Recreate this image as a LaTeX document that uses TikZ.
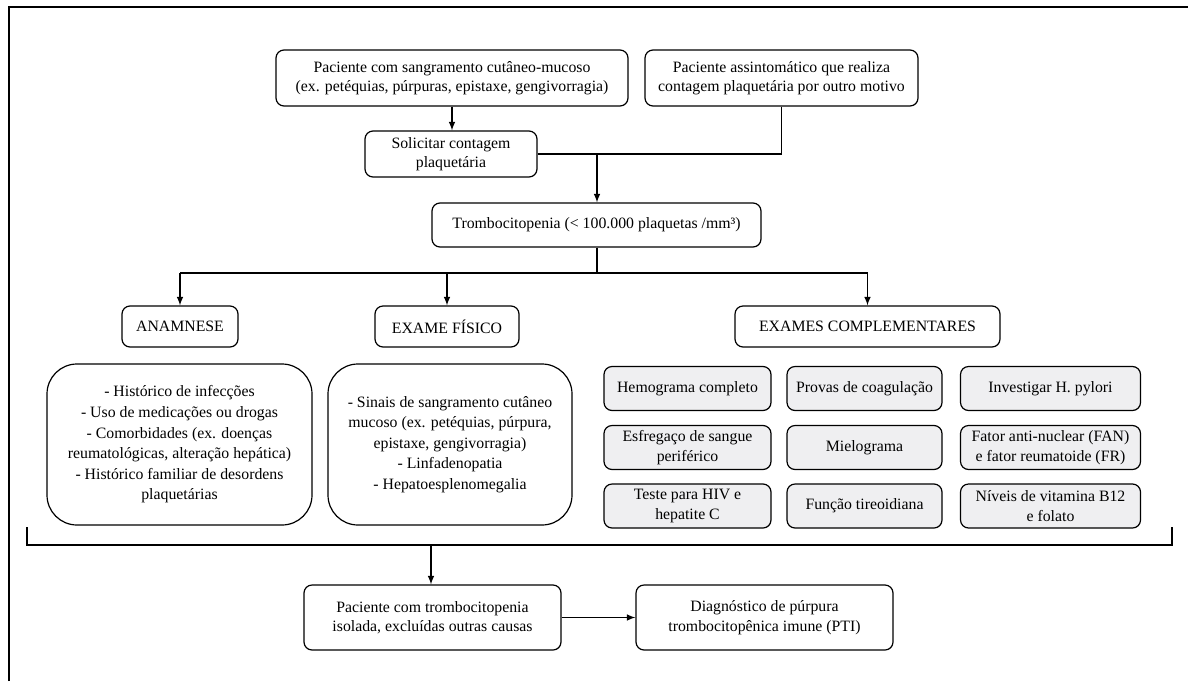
\documentclass[tikz,border=0pt]{standalone}
\usepackage{fontspec}
\setmainfont{Liberation Serif}
\usepackage{tikz}
\usetikzlibrary{arrows}
\usepackage{xcolor}
\definecolor{cinzaclaro}{HTML}{EFEFF1}

\begin{document}
\begin{tikzpicture}[x=1pt,y=-1pt,->,>=latex,line width=1.9pt]

\tikzstyle{every node}=[font=\fontsize{15.8}{19.5}\selectfont]
\tikzstyle{caixa}=[draw,line width=1.2pt,rounded corners=8pt,align=center,inner sep=0pt]
\tikzstyle{caixagrande}=[caixa,rounded corners=30pt,font=\fontsize{15.8}{20.6}\selectfont]
\tikzstyle{exame}=[caixa,fill=cinzaclaro,minimum height=44pt]

\useasboundingbox (0,0) rectangle (1188,681);
\draw[-,line width=1.4pt] (9,681) -- (9,7) -- (1188,7);

% entrada
\node[caixa,minimum width=352pt,minimum height=56pt] (sangra) at (452,78)
  {Paciente com sangramento cutâneo-mucoso\\(ex. petéquias, púrpuras, epistaxe, gengivorragia)};
\node[caixa,minimum width=273pt,minimum height=56pt] (assint) at (781.5,78)
  {Paciente assintomático que realiza\\contagem plaquetária por outro motivo};
\node[caixa,minimum width=172pt,minimum height=46pt] (solic) at (451,154)
  {Solicitar contagem\\plaquetária};
\node[caixa,minimum width=329pt,minimum height=44pt] (trombo) at (596.5,225)
  {Trombocitopenia (< 100.000 plaquetas /mm³)};

% avaliacao
\node[caixa,minimum width=116pt,minimum height=41pt] (anam) at (180,326.5) {ANAMNESE};
\node[caixa,minimum width=144pt,minimum height=41pt] (exfis) at (447,326.5) {EXAME FÍSICO};
\node[caixa,minimum width=265pt,minimum height=41pt] (excomp) at (867.5,326.5) {EXAMES COMPLEMENTARES};

\node[caixagrande,minimum width=265pt,minimum height=161pt] (anamtxt) at (179.5,444.5)
  {- Histórico de infecções\\- Uso de medicações ou drogas\\- Comorbidades (ex. doenças\\reumatológicas, alteração hepática)\\- Histórico familiar de desordens\\plaquetárias};
\node[caixagrande,minimum width=244pt,minimum height=161pt] (exfistxt) at (450,444.5)
  {- Sinais de sangramento cutâneo\\mucoso (ex. petéquias, púrpura,\\epistaxe, gengivorragia)\\- Linfadenopatia\\- Hepatoesplenomegalia};

\node[exame,minimum width=167pt] (hemo) at (687.5,388.5) {Hemograma completo};
\node[exame,minimum width=155pt] (coag) at (864.5,388.5) {Provas de coagulação};
\node[exame,minimum width=180pt] (pylori) at (1050.5,388.5) {Investigar H. pylori};
\node[exame,minimum width=167pt] (esfreg) at (687.5,447.5) {Esfregaço de sangue\\periférico};
\node[exame,minimum width=155pt] (mielo) at (864.5,447.5) {Mielograma};
\node[exame,minimum width=180pt] (fan) at (1050.5,447.5) {Fator anti-nuclear (FAN)\\e fator reumatoide (FR)};
\node[exame,minimum width=167pt] (hiv) at (687.5,506) {Teste para HIV e\\hepatite C};
\node[exame,minimum width=155pt] (tireo) at (864.5,506) {Função tireoidiana};
\node[exame,minimum width=180pt] (vitb) at (1050.5,506) {Níveis de vitamina B12\\e folato};

% saida
\node[caixa,minimum width=257pt,minimum height=65pt] (isolada) at (432.5,617.5)
  {Paciente com trombocitopenia\\isolada, excluídas outras causas};
\node[caixa,minimum width=257pt,minimum height=65pt] (pti) at (764.5,617.5)
  {Diagnóstico de púrpura\\trombocitopênica imune (PTI)};

% ligacoes
\coordinate (junta) at (597,154);
\coordinate (ramo) at (597,273);
\coordinate (chaveE) at (27,527);
\coordinate (chaveD) at (1172,527);
\coordinate (chaveM) at (431,545);

\draw (sangra.south) -- (sangra.south |- solic.north);
\draw[-] (assint.south) |- (junta);
\draw[-] (solic.east) -- (junta);
\draw (junta) -- (junta |- trombo.north);
\draw[-] (junta |- trombo.south) -- (ramo);
\draw[-] (anam.north |- ramo) -- (excomp.north |- ramo);
\draw (anam.north |- ramo) -- (anam.north);
\draw (exfis.north |- ramo) -- (exfis.north);
\draw (excomp.north |- ramo) -- (excomp.north);
\draw[-] (chaveE) |- (chaveD |- chaveM) -- (chaveD);
\draw (chaveM) -- (isolada.north -| chaveM);
\draw (isolada.east) -- (pti.west);

\end{tikzpicture}
\end{document}
